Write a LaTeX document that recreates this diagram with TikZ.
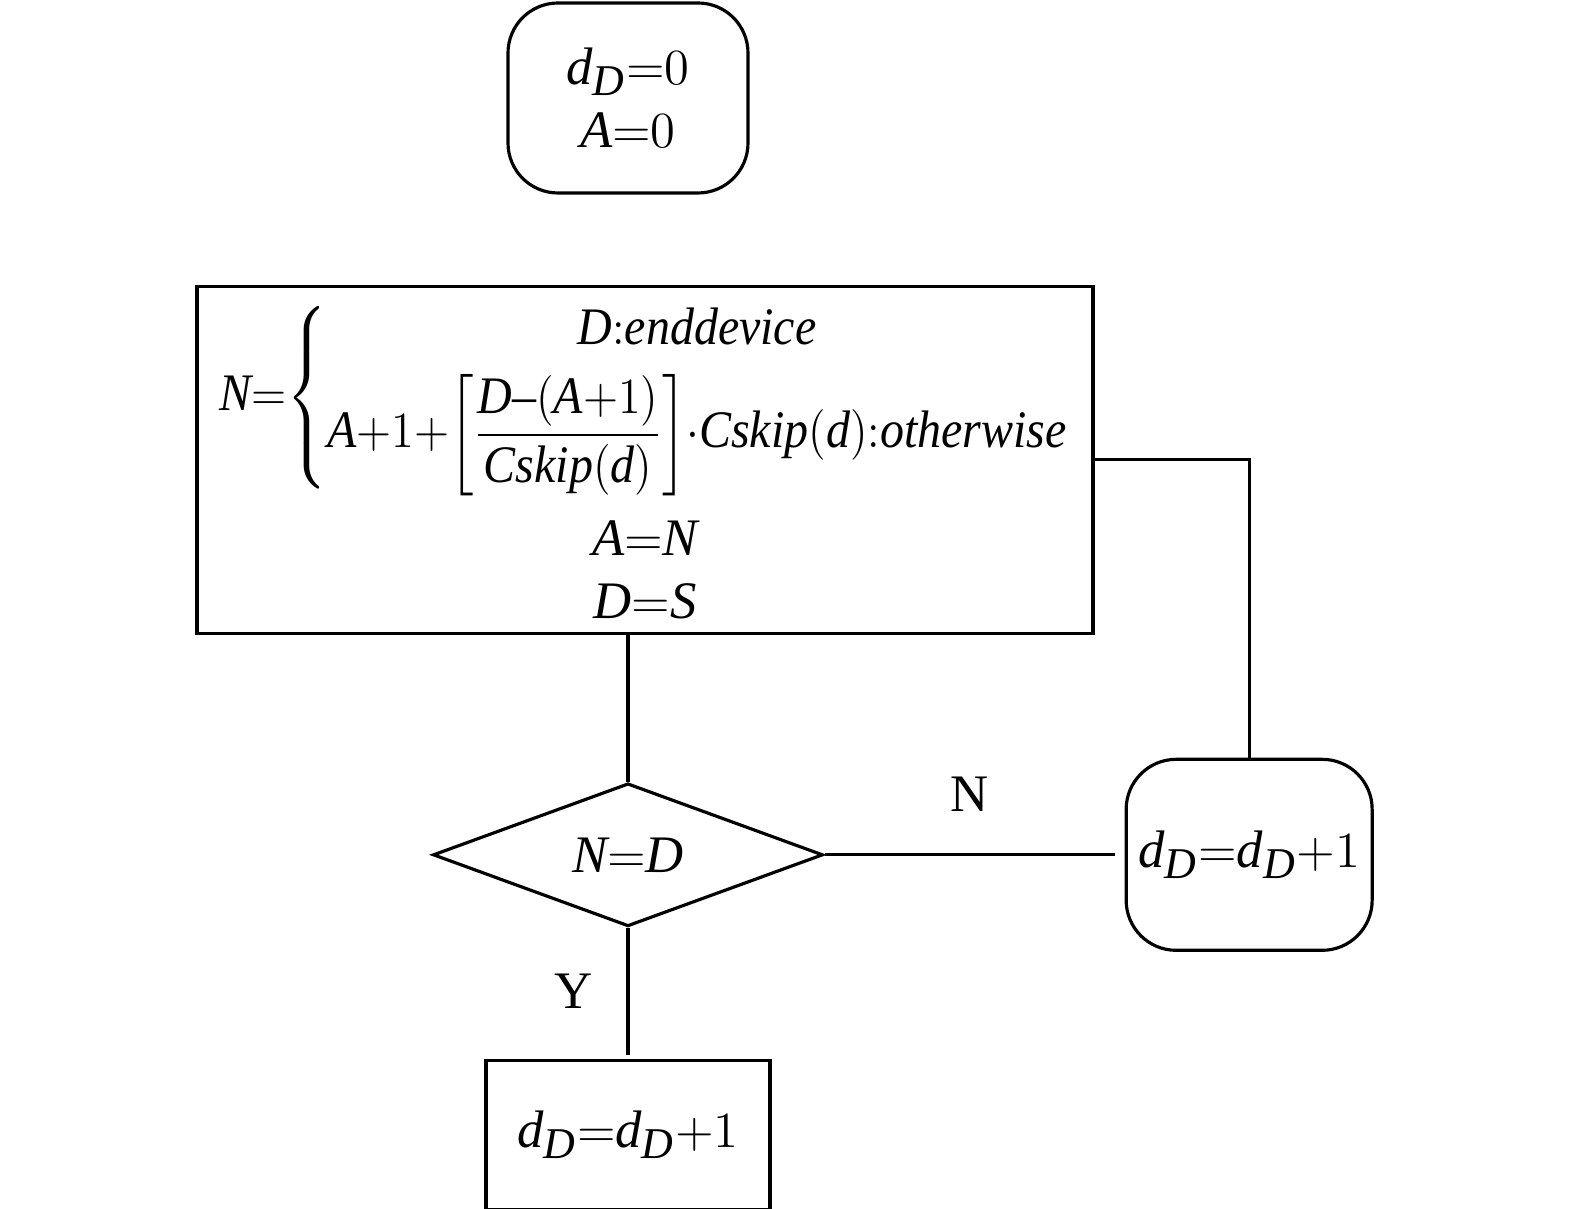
\documentclass[tikz,border=0pt]{standalone}
\usepackage{amsmath}
\usepackage{fontspec}
\setmainfont{Liberation Serif}
\usepackage[italic]{mathastext}
\usepackage{tikz}
\usetikzlibrary{shapes.geometric,positioning}
\medmuskip=0mu
\thickmuskip=0mu

\begin{document}
\begin{tikzpicture}[auto,node distance=1.5cm,line width=0.9pt,
  every node/.style={font=\fontsize{15}{18}\selectfont},
  roundbox/.style={draw,rounded corners=0.5cm,align=center,inner sep=2pt,minimum width=2.4cm,minimum height=1.9cm},
  procbox/.style={draw,align=center,inner sep=2pt},
  decbox/.style={draw,diamond,aspect=2.7,inner sep=0pt,minimum width=3.9cm,minimum height=1.43cm}]
\useasboundingbox (0,0) rectangle (15.75,12.09);
\node[roundbox] (init) at (6.28,11.11) {$d_D=0$\\ $A=0$};
\node[procbox,minimum width=8.96cm,minimum height=3.47cm] (calc) [below=0.9cm of init,xshift=0.17cm]
  {\scalebox{0.91}[1]{$N=\left\{\begin{array}{@{}c@{}} D{:}enddevice\\[3pt]
   A+1+\left[\dfrac{D-(A+1)}{Cskip(d)}\right]\cdot Cskip(d){:}otherwise\end{array}\right.$}\\[6pt]
   $A=N$\\ $D=S$};
\node[decbox] (check) [below=1.47cm of calc,xshift=-0.17cm] {$N=D$};
\node[roundbox,minimum width=2.46cm,minimum height=1.91cm] (incr) [right=3cm of check] {$d_D=d_D+1$};
\node[procbox,minimum width=2.84cm,minimum height=1.49cm] (done) [below=1.31cm of check] {$d_D=d_D+1$};

\draw (calc.south -| check.north) -- (check.north);
\draw (check.east) -- ([xshift=-0.1cm]incr.west) node[midway,above=0.3cm] {N};
\draw (check.south) -- ([yshift=0.04cm]done.north) node[midway,left=0.22cm] {Y};
\draw (incr.north) |- (calc.east);
\end{tikzpicture}
\end{document}
